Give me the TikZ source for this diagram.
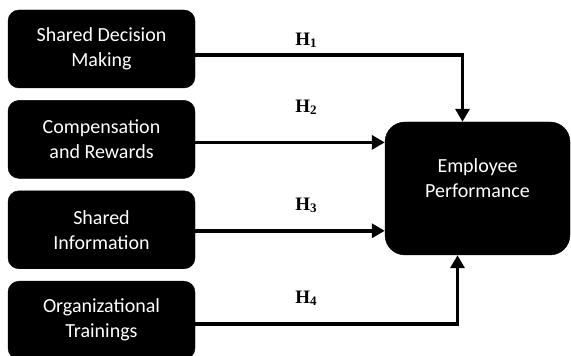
\documentclass[tikz,border=0pt]{standalone}
\usepackage{fontspec}
\setmainfont{Carlito}
\newfontfamily\hfont{Liberation Serif}
\usetikzlibrary{positioning,arrows.meta,calc}

\begin{document}
\begin{tikzpicture}[
  x=1pt, y=1pt,
  node distance=12pt and 1.0cm,
  box/.style={
    rectangle, fill=black, draw=black, text=white, rounded corners=11pt,
    minimum width=187pt, minimum height=78pt,
    align=center, inner sep=2pt,
    font=\fontsize{20}{25}\selectfont,
  },
  outcome/.style={box, minimum width=185pt, minimum height=133pt, rounded corners=20pt},
  flow/.style={-{Triangle[length=13pt,width=14pt]}, line width=3.6pt, draw=black},
  hyp/.style={font=\hfont\fontsize{19}{19}\selectfont\bfseries, inner sep=0pt},
]
\useasboundingbox (0,0) rectangle (571,356);

\node[box] at (101.5,307)     (sdm) {Shared Decision\\Making};
\node[box, below=of sdm]      (cr)  {Compensation\\and Rewards};
\node[box, below=of cr]       (si)  {Shared\\Information};
\node[box, below=of si]       (ot)  {Organizational\\Trainings};

\node[outcome] at (477.5,167.5) (ep) {Employee\\Performance\\[-5pt]};

\node[hyp] at (306,316) (h1) {H\raisebox{-2pt}{\fontsize{13}{13}\selectfont 1}};
\node[hyp] at (306,249) (h2) {H\raisebox{-2pt}{\fontsize{13}{13}\selectfont 2}};
\node[hyp] at (306,151) (h3) {H\raisebox{-2pt}{\fontsize{13}{13}\selectfont 3}};
\node[hyp] at (306,58)  (h4) {H\raisebox{-2pt}{\fontsize{13}{13}\selectfont 4}};

\draw[flow] ([yshift=-6pt]sdm.east) -| ([xshift=-15pt]ep.north);
\draw[flow] ([yshift=-3pt]cr.east) -- ([yshift=-3pt]cr.east -| ep.west);
\draw[flow] ([yshift=-1pt]si.east) -- ([yshift=-1pt]si.east -| ep.west);
\draw[flow] ([yshift=-4pt]ot.east) -| ([xshift=-20pt]ep.south);
\end{tikzpicture}
\end{document}
